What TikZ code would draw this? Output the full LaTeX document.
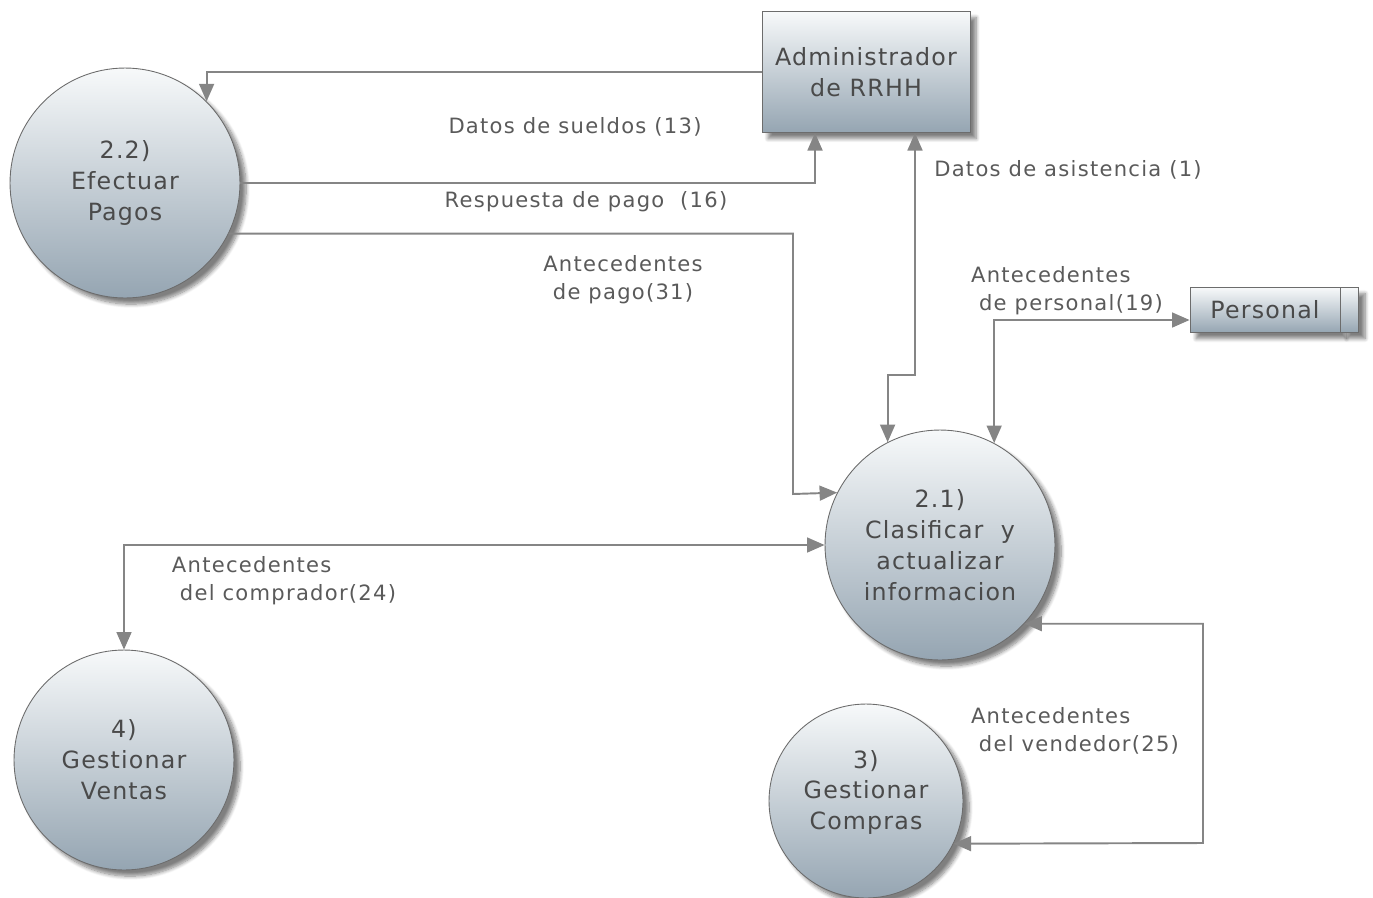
\documentclass[tikz,border=0pt]{standalone}
\usepackage{fontspec}
\setmainfont{DejaVu Sans}
\newfontfamily\labelfont[LetterSpace=6]{DejaVu Sans}
\newfontfamily\boxfont[LetterSpace=5]{DejaVu Sans}
\usetikzlibrary{arrows.meta, shadows.blur, positioning}

\definecolor{shadetop}{HTML}{F7F9FA}
\definecolor{shadebot}{HTML}{95A5B2}
\definecolor{linegray}{HTML}{858585}
\definecolor{textgray}{HTML}{4A4A4A}
\definecolor{labelgray}{HTML}{5A5A5A}

\tikzset{
    >={Triangle[length=10pt,width=8.5pt]},
    shadedfill/.style={draw=gray!85!black, line width=0.5pt, top color=shadetop, bottom color=shadebot,
        blur shadow={shadow xshift=3.5pt, shadow yshift=-3.5pt, shadow blur steps=8, shadow opacity=50}},
    proc/.style={shadedfill, circle, inner sep=0pt, align=center, text=textgray,
        font=\boxfont\fontsize{13.5}{17.6}\selectfont},
    entity/.style={shadedfill, rectangle, inner sep=0pt, align=center, text=textgray,
        font=\boxfont\fontsize{13.5}{17.6}\selectfont},
    flow/.style={draw=linegray, line width=1.1pt},
    flowlabel/.style={text=labelgray, font=\labelfont\fontsize{12}{15.9}\selectfont, inner sep=0pt}
}

\begin{document}
\begin{tikzpicture}[x=0.02cm, y=-0.02cm]
        \useasboundingbox (0,0) rectangle (1373,897);

        % Processes (circles)
        \node[proc, minimum size=4.6cm] (pagos) at (125,183) {2.2)\\Efectuar\\Pagos};
        \node[proc, minimum size=4.6cm] (clasif) at (940,545) {2.1)\\Clasificar~ y\\actualizar\\informacion};
        \node[proc, minimum size=4.4cm] (ventas) at (124,760) {4)\\Gestionar\\Ventas};
        \node[proc, minimum size=3.88cm] (compras) at (866,801) {3)\\Gestionar\\Compras\\[-5pt]\mbox{}};

        % External entity and data store
        \node[entity, minimum width=4.16cm, minimum height=2.42cm] (admin) at (866,72) {Administrador\\de RRHH};
        \node[entity, minimum width=3cm, minimum height=0.9cm] (personal) at (1265,310) {Personal};
        \node[entity, minimum width=0.36cm, minimum height=0.9cm, right=0pt of personal] (perstab) {};

        % Flows between Efectuar Pagos and the administrator
        \draw[flow, ->] (admin.west) -| (pagos.45);
        \draw[flow, ->] (pagos.east) -| ([xshift=-1.02cm]admin.south);
        \draw[flow, <->] ([xshift=0.98cm]admin.south) -- ++(0,242) -| (clasif.117);
        \draw[flow, ->] (pagos.-26) -| (793,494) -- (clasif.153);

        % Flows around Clasificar y actualizar
        \draw[flow, <->] ([yshift=-0.2cm]personal.west) -| (clasif.62);
        \draw[flow, <->] (clasif.west) -| (ventas.north);
        \draw[flow, <->] (clasif.-43) -| (1203,843) -- (compras.-26);

        % Flow labels
        \node[flowlabel] (lsueldos) at (575,127) {Datos de sueldos (13)};
        \node[flowlabel] (lrespuesta) at (586,202) {Respuesta de pago~ (16)};
        \node[flowlabel] (lasist) at (1068,170) {Datos de asistencia (1)};
        \node[flowlabel, align=center] (lpago) at (623,280) {Antecedentes\\de pago(31)};
        \node[flowlabel, align=left] (lpersonal) at (1067,291) {Antecedentes\\\hspace{4.5pt}de personal(19)};
        \node[flowlabel, align=left] (lcomprador) at (284,581) {Antecedentes\\\hspace{4.5pt}del comprador(24)};
        \node[flowlabel, align=left] (lvendedor) at (1075,731) {Antecedentes\\\hspace{4.5pt}del vendedor(25)};
    \end{tikzpicture}
\end{document}
